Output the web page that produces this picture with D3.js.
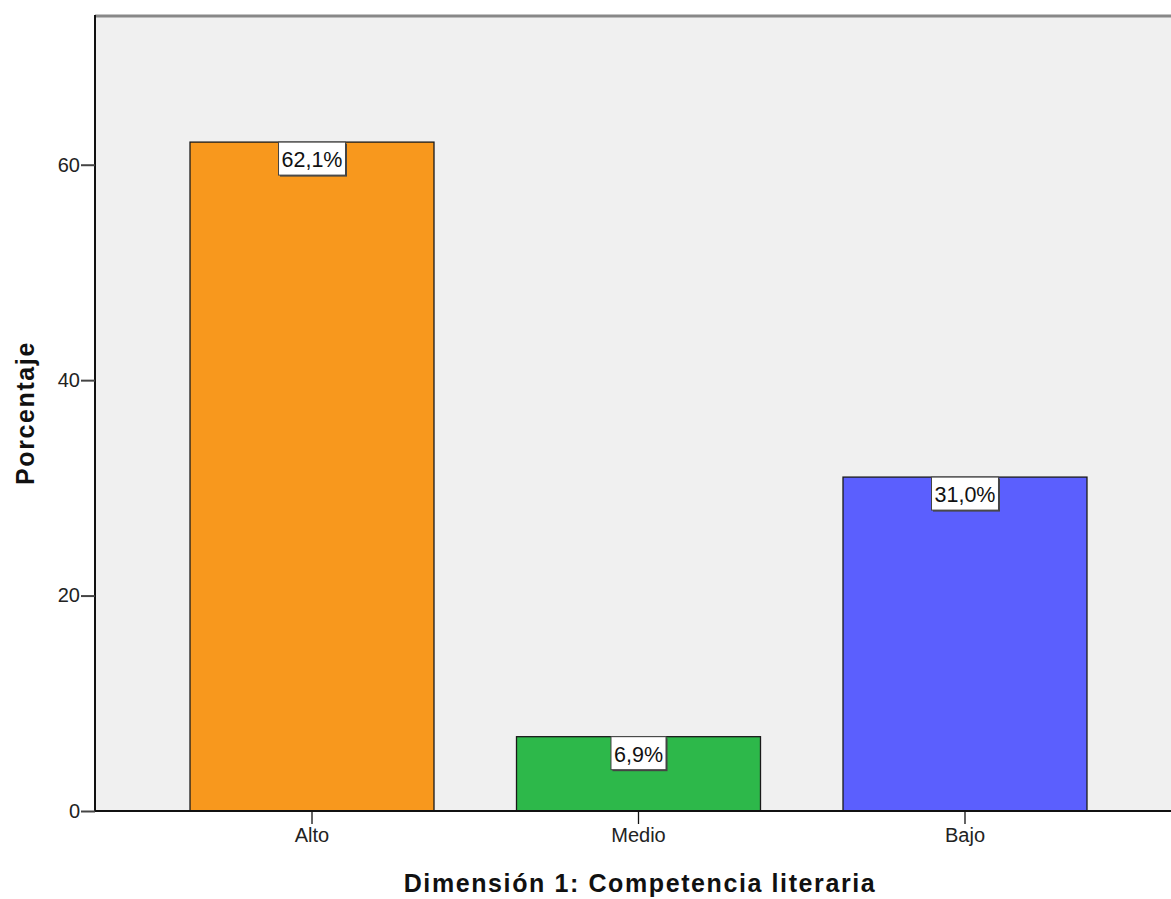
<!DOCTYPE html>
<html><head><meta charset="utf-8">
<script src="https://cdn.jsdelivr.net/npm/d3@7"></script>
<style>body{margin:0;background:#fff}svg{display:block}text{font-family:"Liberation Sans",Arial,sans-serif}</style>
</head><body><svg id="c" width="1171" height="899"></svg>
<script>
const categories = ["Alto","Medio","Bajo"];
const values = [62.1, 6.9, 31.0];
const labels = ["62,1%","6,9%","31,0%"];
const colors = ["#f8981d","#2db84a","#5b5ffe"];
const yTicks = [0,20,40,60];

const svg = d3.select("#c");
const L=95, T=15, B=811, R=1182;
const x = d3.scaleBand().domain(categories).range([L,R]).paddingInner(0.2527).paddingOuter(0.291);
const y = d3.scaleLinear().domain([0,73.9]).range([B,T]);

svg.append("rect").attr("x",L).attr("y",T).attr("width",R-L).attr("height",B-T).attr("fill","#f0f0f0");
svg.append("line").attr("x1",L).attr("x2",R).attr("y1",T+1).attr("y2",T+1).attr("stroke","#888").attr("stroke-width",3);

svg.selectAll("rect.bar").data(values).enter().append("rect").attr("class","bar")
  .attr("x",(d,i)=>x(categories[i])).attr("y",d=>y(d))
  .attr("width",x.bandwidth()).attr("height",d=>B-y(d))
  .attr("fill",(d,i)=>colors[i]).attr("stroke","#1a1a1a").attr("stroke-width",1.3);

const yAxis = svg.append("g").attr("transform",`translate(${L},0)`)
  .call(d3.axisLeft(y).tickValues(yTicks).tickSize(14).tickPadding(1).tickFormat(d3.format("d")));
yAxis.select(".domain").attr("stroke","#111").attr("stroke-width",2).attr("d",`M0,${T}V${B}`);
yAxis.selectAll(".tick line").attr("stroke","#444").attr("stroke-width",2);
yAxis.selectAll("text").attr("font-size",20).attr("fill","#222");

const xAxis = svg.append("g").attr("transform",`translate(0,${B})`)
  .call(d3.axisBottom(x).tickSize(13).tickPadding(4));
xAxis.select(".domain").attr("stroke","#111").attr("stroke-width",2).attr("d",`M${L},0H${R}`);
xAxis.selectAll(".tick line").attr("stroke","#111").attr("stroke-width",1.3);
xAxis.selectAll("text").attr("font-size",20).attr("fill","#222");

const g = svg.selectAll("g.lbl").data(values).enter().append("g").attr("class","lbl")
  .attr("transform",(d,i)=>`translate(${x(categories[i])+x.bandwidth()/2},${y(d)})`);
g.each(function(d,i){
  const s=d3.select(this);
  const t=s.append("text").attr("text-anchor","middle").attr("y",25).attr("font-size",21.5).attr("fill","#111").text(labels[i]);
  const w=t.node().getComputedTextLength()+6;
  s.insert("rect","text").attr("x",-w/2+1.5).attr("y",1.5).attr("width",w).attr("height",33).attr("fill","#444");
  s.insert("rect","text").attr("x",-w/2).attr("y",0).attr("width",w).attr("height",33).attr("fill","#fff").attr("stroke","#444").attr("stroke-width",1);
});

svg.append("text").attr("transform","translate(34,413) rotate(-90)").attr("text-anchor","middle")
  .attr("font-size",25).attr("font-weight","bold").attr("letter-spacing",1.6).attr("fill","#111").text("Porcentaje");
svg.append("text").attr("x",640).attr("y",892).attr("text-anchor","middle")
  .attr("font-size",25).attr("font-weight","bold").attr("letter-spacing",1.6).attr("fill","#111").text("Dimensión 1: Competencia literaria");
</script></body></html>
